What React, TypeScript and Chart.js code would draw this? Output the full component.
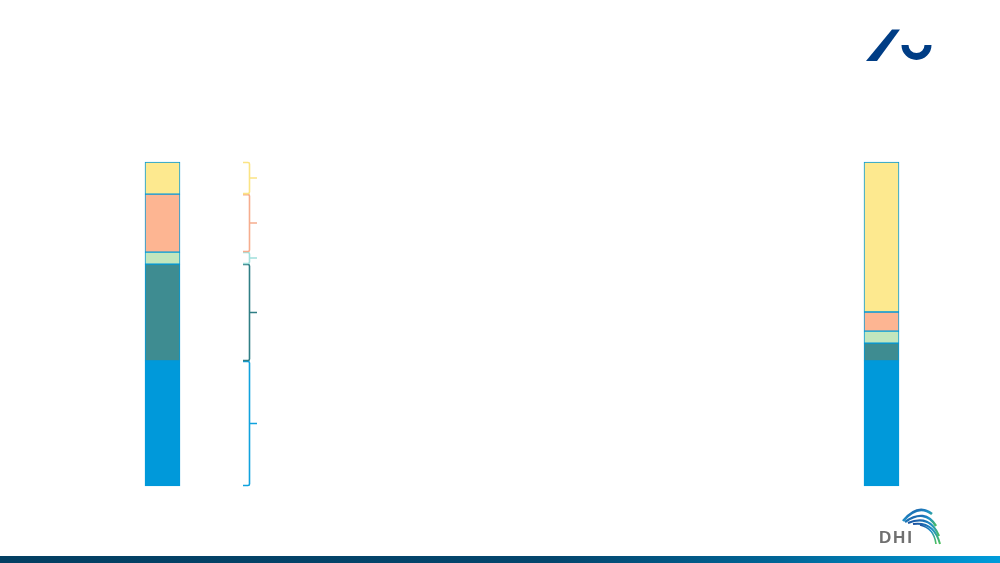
import React, { useEffect, useRef } from "react";
import { Chart, registerables } from "chart.js";

Chart.register(...registerables);

// Data
const categories = ["Bar 1", "Bar 2"];
const seriesNames = ["Blue", "Teal", "Green", "Salmon", "Yellow"];
const bar1Values = [38.6, 29.9, 3.7, 17.9, 9.9];
const bar2Values = [38.6, 5.5, 3.7, 5.9, 46.3];
const fillColors = ["#0099DA", "#3E8C91", "#C2E6BD", "#FDB592", "#FDE98F"];
const braceColors = ["#10A2DE", "#2F7E85", "#A0E0DC", "#F6AD8E", "#FBE484"];

const bracePlugin = {
  id: "braces",
  afterDatasetsDraw(chart: any) {
    const ctx = chart.ctx;
    const yScale = chart.scales.y;
    const meta = chart.getDatasetMeta(0);
    const bar = meta.data[0];
    if (!bar) return;
    const x = bar.x + 87;
    let cum = 0;
    ctx.save();
    ctx.lineWidth = 1.6;
    chart.data.datasets.forEach((ds: any, i: number) => {
      const v = ds.data[0] as number;
      const yb = yScale.getPixelForValue(cum) - 0.5;
      const yt = yScale.getPixelForValue(cum + v) + 0.5;
      cum += v;
      const mid = (yt + yb) / 2;
      ctx.strokeStyle = braceColors[i];
      ctx.beginPath();
      ctx.moveTo(x - 6.5, yt);
      ctx.lineTo(x - 1.5, yt);
      ctx.quadraticCurveTo(x, yt, x, yt + 1.5);
      ctx.lineTo(x, yb - 1.5);
      ctx.quadraticCurveTo(x, yb, x - 1.5, yb);
      ctx.lineTo(x - 6.5, yb);
      ctx.moveTo(x, mid);
      ctx.lineTo(x + 7.5, mid);
      ctx.stroke();
    });
    ctx.restore();
  },
};

export default function App() {
  const ref = useRef<HTMLCanvasElement | null>(null);
  useEffect(() => {
    if (!ref.current) return;
    const chart = new Chart(ref.current, {
      type: "bar",
      data: {
        labels: categories,
        datasets: seriesNames.map((name, i) => ({
          label: name,
          data: [bar1Values[i], bar2Values[i]],
          backgroundColor: fillColors[i],
          borderColor: "#0099DA",
          borderWidth: 1,
          borderSkipped: false,
          barThickness: 35,
          clip: false as any,
        })),
      },
      options: {
        animation: false,
        responsive: false,
        devicePixelRatio: 1,
        layout: { padding: { left: 162.5, right: 118.5, top: 162, bottom: 77 } },
        plugins: { legend: { display: false }, tooltip: { enabled: false } },
        scales: {
          x: { type: "category", offset: false, stacked: true, display: false },
          y: { stacked: true, min: 0, max: 100, display: false },
        },
      },
      plugins: [bracePlugin],
    });
    return () => chart.destroy();
  }, []);

  return (
    <div style={{ position: "absolute", left: 0, top: 0, width: 1000, height: 563, background: "#fff", overflow: "hidden" }}>
      <canvas ref={ref} width={1000} height={563} style={{ position: "absolute", left: 0, top: 0 }} />
      <svg width={1000} height={563} style={{ position: "absolute", left: 0, top: 0, pointerEvents: "none" }}>
        <defs>
          <linearGradient id="foot" x1="0" x2="1" y1="0" y2="0">
            <stop offset="0" stopColor="#033F62" />
            <stop offset="0.55" stopColor="#04466D" />
            <stop offset="0.78" stopColor="#006596" />
            <stop offset="1" stopColor="#009CDB" />
          </linearGradient>
          <linearGradient id="wave" x1="0" x2="1" y1="0" y2="1">
            <stop offset="0" stopColor="#1B4F9E" />
            <stop offset="0.5" stopColor="#1E8FC8" />
            <stop offset="1" stopColor="#4CC05A" />
          </linearGradient>
        </defs>
        {/* AU logo */}
        <polygon points="892,29.5 900,29.5 877,61 866,61" fill="#003D85" />
        <path d="M 901.5 45 A 15 15 0 0 0 931.5 45 L 924.5 45 A 8 8 0 0 1 908.5 45 Z" fill="#003D85" />
        {/* DHI logo */}
        <text x={879} y={543} fontFamily="Liberation Sans, Arial, sans-serif" fontWeight="bold" fontSize={17} fill="#707070" letterSpacing={1.8}>DHI</text>
        <path d="M 903 521 Q 918 503 932 514" stroke="url(#wave)" strokeWidth={2.6} fill="none" />
        <path d="M 905 522 Q 925 508 936 526" stroke="url(#wave)" strokeWidth={2.4} fill="none" />
        <path d="M 908 523 Q 930 514 939 536" stroke="url(#wave)" strokeWidth={2.2} fill="none" />
        <path d="M 913 524 Q 934 521 940 544" stroke="url(#wave)" strokeWidth={2} fill="none" />
        <path d="M 920 525 Q 934 528 936 544" stroke="url(#wave)" strokeWidth={1.6} fill="none" />
        <rect x={0} y={556} width={1000} height={7} fill="url(#foot)" />
      </svg>
    </div>
  );
}
